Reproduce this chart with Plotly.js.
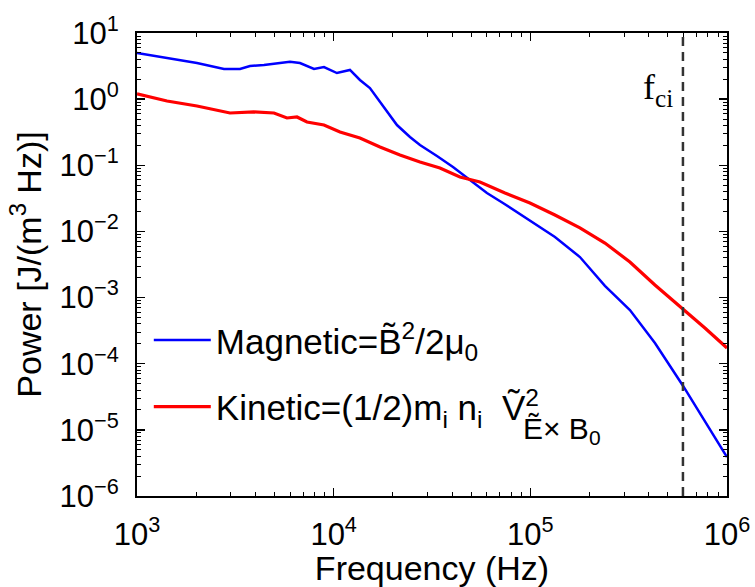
<!DOCTYPE html>
<html>
<head>
<meta charset="utf-8">
<script src="https://cdn.plot.ly/plotly-3.0.1.min.js"></script>
<style>html,body{margin:0;padding:0;background:#fff;}#chart{width:755px;height:587px;}</style>
</head>
<body>
<div id="chart"></div>
<script>
// Frequencies (Hz) and power spectra [J/(m^3 Hz)]
const magFreq = [1000, 1421, 2018, 2769, 3339, 3754, 4423, 5333, 5996, 6741, 7941, 8927, 10390, 12100, 13600, 15290, 17200, 19330, 20980, 24430, 27470, 33510, 40430, 49320, 60170, 72560, 85510, 99540, 133400, 178700, 239500, 320900, 430100, 597000, 754300, 1000000];
const magPower = [4.99, 4.19, 3.52, 2.86, 2.86, 3.17, 3.28, 3.52, 3.68, 3.52, 2.86, 3.06, 2.48, 2.76, 1.95, 1.47, 0.905, 0.575, 0.406, 0.268, 0.203, 0.138, 0.0942, 0.0598, 0.0381, 0.0269, 0.0197, 0.0148, 0.00824, 0.0041, 0.00150, 0.000649, 0.000205, 4.65e-5, 1.53e-5, 3.88e-6];

const kinFreq = [1000, 1421, 2018, 2970, 3934, 4971, 5788, 6508, 7316, 8927, 10770, 13600, 17200, 21730, 27470, 34700, 43860, 55420, 74300, 99540, 133400, 178700, 239500, 320900, 430100, 597000, 772200, 1000000];
const kinPower = [1.20, 0.937, 0.787, 0.617, 0.640, 0.617, 0.519, 0.537, 0.451, 0.406, 0.318, 0.258, 0.189, 0.143, 0.112, 0.0910, 0.0665, 0.0558, 0.0381, 0.0269, 0.0177, 0.0113, 0.00668, 0.00345, 0.00155, 0.000675, 0.000347, 0.000173];

const fci = 597000;
const xDecades = [3, 4, 5, 6];
const yDecades = [-6, -5, -4, -3, -2, -1, 0, 1];

const magName = "Magnetic=B\u0303<sup>2</sup>/2\u03bc<sub>0</sub>";
const kinName = "Kinetic=(1/2)m<sub>i</sub> n<sub>i</sub>\u00a0 V\u0303<sup>2</sup>";
const kinSub = "E\u0303\u00d7 B<sub>0</sub>";

function decadeText(e){ return "10<sup>" + (e < 0 ? "\u2212" + (-e) : e) + "</sup>"; }
function minorVals(decs){
  const v = [];
  for (let i = 0; i < decs.length - 1; i++) for (let d = 2; d <= 9; d++) v.push(d * Math.pow(10, decs[i]));
  return v;
}

const FONT = "Liberation Sans, Arial, Helvetica, sans-serif";

const traces = [
  {x: magFreq, y: magPower, type: 'scatter', mode: 'lines', name: magName,
   line: {color: '#0000ff', width: 2.5}, legendgroup: 'a'},
  {x: kinFreq, y: kinPower, type: 'scatter', mode: 'lines', name: kinName,
   line: {color: '#ff0000', width: 3.2}, legendgroup: 'b'}
];

const axisCommon = {
  type: 'log', showgrid: false, zeroline: false,
  showline: true, linecolor: '#000', linewidth: 2, mirror: 'allticks',
  ticks: 'inside', ticklen: 8, tickwidth: 1.5, tickcolor: '#000',
  tickfont: {family: FONT, size: 31, color: '#000'}
};

const layout = {
  width: 755, height: 587,
  margin: {l: 137, r: 28, t: 33, b: 91},
  paper_bgcolor: '#fff', plot_bgcolor: '#fff',
  font: {family: FONT, color: '#000'},
  xaxis: Object.assign({}, axisCommon, {
    range: [3, 6], tickmode: 'array', ticklabelstandoff: 10,
    tickvals: xDecades.map(e => Math.pow(10, e)), ticktext: xDecades.map(decadeText),
    minor: {tickmode: 'array', tickvals: minorVals(xDecades), ticks: 'inside', ticklen: 4, tickwidth: 1, tickcolor: '#000', showgrid: false},
    title: {text: 'Frequency (Hz)', font: {family: FONT, size: 34, color: '#000'}, standoff: 3}
  }),
  yaxis: Object.assign({}, axisCommon, {
    range: [-6, 1], tickmode: 'array', ticklabelstandoff: 10,
    tickvals: yDecades.map(e => Math.pow(10, e)), ticktext: yDecades.map(decadeText),
    minor: {tickmode: 'array', tickvals: minorVals(yDecades), ticks: 'inside', ticklen: 4, tickwidth: 1, tickcolor: '#000', showgrid: false},
    title: {text: 'Power [J/(m<sup>3</sup> Hz)]', font: {family: FONT, size: 34, color: '#000'}, standoff: 8}
  }),
  showlegend: true,
  legend: {x: 0.02, y: 0.4, xanchor: 'left', yanchor: 'top', bgcolor: 'rgba(0,0,0,0)',
           font: {family: FONT, size: 35, color: '#000'}, itemwidth: 57, tracegroupgap: 18,
           traceorder: 'grouped'},
  shapes: [
    {type: 'line', xref: 'x', yref: 'paper', x0: fci, x1: fci, y0: 0, y1: 1,
     line: {color: '#333', width: 2.5, dash: '9px,6px'}}
  ],
  annotations: [
    {x: Math.log10(fci), y: 0.877, xref: 'x', yref: 'paper', xanchor: 'right', yanchor: 'middle',
     xshift: -8, showarrow: false, text: 'f<sub>ci</sub>',
     font: {family: 'Liberation Serif, Times New Roman, serif', size: 36, color: '#000'}},
    {x: 0.651, y: 0.142, xref: 'paper', yref: 'paper', xanchor: 'left', yanchor: 'middle',
     showarrow: false, text: kinSub, font: {family: FONT, size: 30, color: '#000'}}
  ]
};

Plotly.newPlot('chart', traces, layout, {staticPlot: true, displayModeBar: false});
</script>
</body>
</html>
